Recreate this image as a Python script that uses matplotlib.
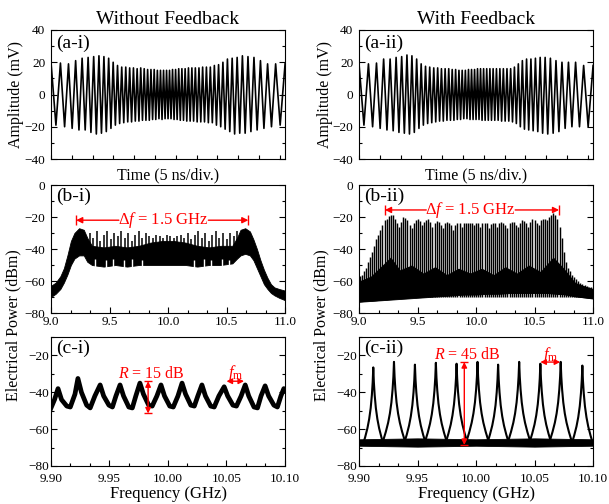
import numpy as np
import matplotlib.pyplot as plt
from matplotlib.ticker import MultipleLocator

plt.rcParams['font.family'] = ['Liberation Serif', 'DejaVu Serif']
plt.rcParams['mathtext.fontset'] = 'custom'
plt.rcParams['mathtext.rm'] = 'Liberation Serif'
plt.rcParams['mathtext.it'] = 'Liberation Serif:italic'
plt.rcParams['axes.linewidth'] = 0.8

# (a) time traces: extrema of the chirped beat signal, time in divisions
wave_t = [0.000, 0.237, 0.454, 0.654, 0.841, 1.017, 1.184, 1.344, 1.496, 1.643,
          1.784, 1.920, 2.052, 2.180, 2.305, 2.426, 2.544, 2.659, 2.772, 2.882,
          2.989, 3.095, 3.198, 3.300, 3.400, 3.498, 3.594, 3.689, 3.782, 3.874,
          3.964, 4.053, 4.141, 4.228, 4.314, 4.398, 4.481, 4.564, 4.645, 4.726,
          4.805, 4.884, 4.961, 5.038, 5.114, 5.190, 5.264, 5.338, 5.411, 5.484,
          5.556, 5.627, 5.698, 5.770, 5.843, 5.916, 5.990, 6.064, 6.140, 6.216,
          6.293, 6.370, 6.449, 6.528, 6.609, 6.690, 6.773, 6.856, 6.940, 7.026,
          7.113, 7.201, 7.290, 7.380, 7.472, 7.565, 7.660, 7.756, 7.854, 7.954,
          8.056, 8.159, 8.265, 8.372, 8.482, 8.595, 8.710, 8.828, 8.949, 9.074,
          9.202, 9.334, 9.470, 9.611, 9.758, 9.910, 10.070, 10.237, 10.413, 10.600,
          10.800, 11.017, 11.254]
wave_ai = [20, -19, 19.5, -20, 19, -21, 21, -22, 22.5, -22,
           23, -23.5, 23.5, -24.5, 24, -24, 23.5, -23, 22.5, -21,
           20, -19, 18, -18, 17, -17.5, 17, -17, 16.5, -17,
           16.5, -16.5, 16, -16.5, 16.5, -16, 16, -16, 15.5, -16,
           15.5, -15.5, 15.5, -15.5, 15, -15, 15, -15.5, 15, -15,
           15, -15, 15, -15, 15.5, -15.5, 15.5, -15.5, 16, -16,
           16, -16, 16, -16.5, 16.5, -16.5, 16.5, -16.5, 16.5, -17,
           16.5, -17, 17, -17, 17, -17.5, 17, -17.5, 18, -19,
           18.5, -20, 20, -21.5, 22, -23, 22.5, -24.5, 23, -24,
           24, -24, 23.5, -23, 23, -22, 21, -21, 19, -20,
           19, -19, 19]
wave_aii = [19, -19, 19, -20, 19.5, -21, 22, -22, 22, -22.5,
            23, -23.5, 23.5, -24, 24.5, -24.5, 24, -23.5, 22, -21,
            19, -19, 17.5, -18, 17, -17.5, 16.5, -17, 16.5, -16.5,
            16, -16.5, 16, -16, 16, -16, 15.5, -16, 15.5, -15.5,
            15, -15.5, 15, -15, 15, -15, 15.5, -15.5, 15.5, -15.5,
            15.5, -15.5, 16, -15.5, 16, -16, 16, -16, 16, -16,
            16, -16, 16, -16, 16, -16, 16, -16.5, 16, -16.5,
            16, -16.5, 16, -17, 17, -18, 19, -20, 21, -21.5,
            22, -22, 22, -22.5, 22.5, -23, 23, -24, 23, -24.5,
            22.5, -24, 21, -23, 20, -21, 20, -20, 20, -20,
            18, -20, 18]

# (b-i) broadband spectrum without feedback: body of the trace and its spikes
bi_f = [9.00, 9.04, 9.08, 9.11, 9.14, 9.17, 9.20, 9.24, 9.28, 9.31,
        9.35, 9.45, 9.55, 9.65, 9.75, 9.85, 9.95, 10.05, 10.15, 10.25,
        10.35, 10.45, 10.55, 10.59, 10.62, 10.66, 10.70, 10.73, 10.76, 10.79,
        10.82, 10.85, 10.88, 10.91, 10.95, 11.00]
bi_hi = [-63, -61, -57, -52, -44, -35, -30, -27, -28, -33,
         -38, -39, -38, -39, -38, -36, -35, -35, -36, -38,
         -39, -38, -38, -33, -28, -27, -29, -34, -40, -47,
         -53, -58, -62, -64, -65, -66]
bi_lo = [-70, -68, -65, -61, -56, -50, -46, -44, -44, -48,
         -50, -51, -50, -51, -50, -50, -50, -50, -50, -51,
         -50, -50, -49, -46, -44, -43, -44, -47, -52, -57,
         -62, -65, -67.5, -69, -70.5, -72]
spike_f = [9.33, 9.36, 9.39, 9.42, 9.45, 9.48, 9.51, 9.54, 9.57, 9.60,
           9.63, 9.66, 9.69, 9.72, 9.75, 9.78, 9.81, 9.84, 9.87, 9.90,
           9.93, 9.96, 9.99, 10.02, 10.05, 10.08, 10.11, 10.14, 10.17, 10.20,
           10.23, 10.26, 10.29, 10.32, 10.35, 10.38, 10.41, 10.44, 10.47, 10.50,
           10.53, 10.56, 10.59]
spike_top = [-30, -33, -29, -35, -31, -29, -34, -30, -32, -28.5,
             -33, -30, -35, -31, -29, -33, -30, -32, -33, -31,
             -32, -33, -31, -32, -33, -32, -31, -33, -30, -34,
             -31, -29, -33, -30, -35, -31, -29, -33, -30, -34,
             -30, -32, -29]
# lower edge notches of the body (white dips reaching up into the band)
notch_f = [9.38, 9.47, 9.53, 9.62, 9.69, 9.78, 10.22, 10.31, 10.37, 10.46, 10.52]
notch_top = [-46, -47, -46, -47, -46, -47, -47, -46, -47, -46, -47]

# (b-ii) comb spectrum with feedback
comb_start = 9.005   # GHz
comb_step = 0.0178   # GHz, line spacing f_m
comb_top = [-57, -56, -54, -52, -48, -45, -42, -38, -34, -31,
            -28, -25, -22, -21, -19.5, -18.5, -19, -21, -24, -26,
            -23, -20, -20.5, -22, -25, -27, -24, -22, -21, -22.5,
            -25, -23, -22, -21.5, -23, -26, -24, -22.5, -23, -25,
            -27, -24, -23, -23.5, -25, -28, -25, -23.5, -24, -26,
            -24, -23.5, -24, -23.5, -24, -25, -23.5, -24, -26, -24,
            -23.5, -24, -27, -24.5, -23.5, -24, -26, -24, -23, -23.5,
            -25, -27, -24, -23, -23, -25, -26, -23.5, -22, -22.5,
            -24, -26, -23, -21.5, -22, -24, -25, -22, -21, -21.5,
            -22, -20, -18.5, -17.5, -18.5, -21, -26, -33, -42, -48,
            -52, -54, -56, -57.5, -59, -60, -61, -62, -62.5, -63,
            -63.5, -64, -64.5]
bii_f = [9.00, 9.10, 9.20, 9.30, 9.40, 9.50, 9.60, 9.70, 9.80, 9.90, 10.00,
         10.10, 10.20, 10.30, 10.40, 10.50, 10.60, 10.70, 10.80, 10.90, 11.00]
bii_lo = [-73, -72.5, -72, -71.5, -71, -70.5, -70, -69.5, -69, -68.5, -68.5,
          -68, -68, -67.5, -67.5, -67.5, -67.5, -68, -68.5, -70, -71]
bii_hi = [-61, -59, -57, -56, -57, -58, -57, -58, -59, -58, -58,
          -59, -58, -57, -58, -57, -56, -57, -60, -63, -65]
# darker lower part of the comb (sidebands between lines)
bii_mid_f = [9.00, 9.10, 9.20, 9.27, 9.35, 9.45, 9.55, 9.65, 9.75, 9.85, 9.95,
             10.05, 10.15, 10.25, 10.35, 10.45, 10.55, 10.66, 10.75, 10.85, 11.00]
bii_mid_hi = [-60, -57, -50, -45, -53, -50, -55, -51, -56, -52, -55,
              -52, -56, -51, -55, -50, -54, -45, -52, -61, -65]

# (c-i) zoomed spectrum without feedback
ci_f = [9.900, 9.903,
        9.906, 9.909, 9.9135, 9.9165, 9.9205,
        9.923, 9.926, 9.9305, 9.9335, 9.9375,
        9.942, 9.945, 9.9495, 9.9525, 9.9555,
        9.959, 9.962, 9.9665, 9.9695, 9.9725,
        9.976, 9.979, 9.9835, 9.9865, 9.9905,
        9.994, 9.997, 10.0015, 10.0045, 10.0085,
        10.012, 10.015, 10.0195, 10.0225, 10.0255,
        10.029, 10.032, 10.0365, 10.0395, 10.0435,
        10.048, 10.051, 10.0555, 10.0585, 10.0625,
        10.066, 10.069, 10.0735, 10.0765, 10.0795,
        10.083, 10.086, 10.0905, 10.0935, 10.0965,
        10.099, 10.100]
ci_db = [-48.5, -44,
         -38, -44, -47.5, -48, -41,
         -32.5, -40, -47, -48.5, -42,
         -36, -42, -47, -48, -42,
         -36, -42, -48, -48.5, -42,
         -35, -41, -47, -47.5, -42,
         -36, -42, -47.5, -48, -42,
         -35, -41, -47, -47.5, -42,
         -36, -42, -47.5, -48, -42,
         -37, -42, -47, -47.5, -42,
         -36, -42, -48, -48.5, -42,
         -36.5, -42, -47, -48, -42,
         -38, -39]

# (c-ii) zoomed comb with feedback
cii_peak_f = [9.9122, 9.9299, 9.9478, 9.9657, 9.9834, 10.0013,
              10.0189, 10.0369, 10.0550, 10.0724, 10.0909]
cii_peak_db = [-26.5, -23.5, -25, -24, -24.5, -23.5, -25, -23.5, -24.5, -23.5, -25.5]
skirt_df = [-0.0089, -0.007, -0.005, -0.0035, -0.0022, -0.0012, -0.0005, 0,
            0.0005, 0.0012, 0.0022, 0.0035, 0.005, 0.007, 0.0089]
skirt_rel = [-42, -38, -33, -28, -22, -15, -8, 0, -8, -15, -22, -28, -33, -38, -42]
cii_floor_f = [9.90, 9.95, 10.00, 10.05, 10.10]
cii_floor_lo = [-69, -69.5, -69, -69.5, -69]
cii_floor_hi = [-65.5, -65, -65.5, -65, -65.5]

RED = '#ff0000'
FW, FH = 609, 504

fig = plt.figure(figsize=(FW / 100, FH / 100), dpi=100)


def axes_px(left, top, right, bottom):
    return fig.add_axes([left / FW, 1 - bottom / FH, (right - left) / FW, (bottom - top) / FH])


def style(ax, ypad=4, xpad=3):
    ax.tick_params(which='both', direction='in', right=True, top=False,
                   labelsize=9.5, width=0.8)
    ax.tick_params(which='major', length=4)
    ax.tick_params(which='minor', length=2.5)
    ax.tick_params(axis='y', pad=ypad)
    ax.tick_params(axis='x', pad=xpad)


ax_ai = axes_px(51, 30, 285, 159)
ax_aii = axes_px(359, 30, 593, 159)
ax_bi = axes_px(51, 185, 285, 313)
ax_bii = axes_px(359, 185, 593, 313)
ax_ci = axes_px(51, 337, 285, 466)
ax_cii = axes_px(359, 337, 593, 466)

# (a) panels
for ax, vals, title, lab in [(ax_ai, wave_ai, 'Without Feedback', '(a-i)'),
                             (ax_aii, wave_aii, 'With Feedback', '(a-ii)')]:
    ax.plot(wave_t, vals, color='black', lw=1.2)
    ax.set_xlim(0, 11.25)
    ax.set_ylim(-40, 40)
    ax.xaxis.set_major_locator(MultipleLocator(1))
    ax.yaxis.set_major_locator(MultipleLocator(20))
    ax.yaxis.set_minor_locator(MultipleLocator(10))
    ax.set_xticklabels([])
    style(ax)
    ax.tick_params(axis='x', which='major', length=3)
    ax.set_title(title, fontsize=14, pad=4)
    ax.set_xlabel('Time (5 ns/div.)', fontsize=11.5, labelpad=3)
    ax.text(0.02, 0.965, lab, transform=ax.transAxes, fontsize=14, va='top', ha='left')

# (b-i)
ax_bi.fill_between(bi_f, bi_lo, bi_hi, color='black', lw=0.6)
ax_bi.vlines(spike_f, -42, spike_top, color='black', lw=1.1)
ax_bi.vlines(notch_f, -53, notch_top, color='white', lw=1.0)
# (b-ii)
comb_f = comb_start + comb_step * np.arange(len(comb_top))
ax_bii.fill_between(bii_f, bii_lo, bii_hi, color='black', lw=0.6)
ax_bii.fill_between(bii_mid_f, bii_lo, bii_mid_hi, color='black', lw=0)
ax_bii.vlines(comb_f, -70, comb_top, color='black', lw=1.05)

for ax, lab in [(ax_bi, '(b-i)'), (ax_bii, '(b-ii)')]:
    ax.set_xlim(9.0, 11.0)
    ax.set_ylim(-80, 0)
    ax.xaxis.set_major_locator(MultipleLocator(0.5))
    ax.xaxis.set_minor_locator(MultipleLocator(0.5 / 3))
    ax.yaxis.set_major_locator(MultipleLocator(20))
    ax.yaxis.set_minor_locator(MultipleLocator(10))
    ax.xaxis.set_major_formatter('{x:.1f}')
    style(ax, ypad=4, xpad=2.5)
    ax.text(0.02, 0.98, lab, transform=ax.transAxes, fontsize=14, va='top', ha='left')

# delta-f annotations
for ax, x0, x1, t0, t1, xc, y in [(ax_bi, 9.215, 10.687, 9.58, 10.345, 9.962, -22),
                                  (ax_bii, 9.222, 10.71, 9.575, 10.335, 9.955, -15.6)]:
    ax.annotate('', xy=(x0, y), xytext=(t0, y),
                arrowprops=dict(arrowstyle='-|>', color=RED, lw=1, mutation_scale=9,
                                shrinkA=0, shrinkB=0))
    ax.annotate('', xy=(x1, y), xytext=(t1, y),
                arrowprops=dict(arrowstyle='-|>', color=RED, lw=1, mutation_scale=9,
                                shrinkA=0, shrinkB=0))
    ax.vlines([x0, x1], y - 3, y + 3, color=RED, lw=1)
    ax.text(xc, y, 'Δ$f$ = 1.5 GHz', color=RED, fontsize=12, ha='center', va='center')

# (c-i)
ax_ci.plot(ci_f, ci_db, color='black', lw=3.4)
# (c-ii)
ax_cii.fill_between(cii_floor_f, cii_floor_lo, cii_floor_hi, color='black', lw=0.6)
for pf, pdb in zip(cii_peak_f, cii_peak_db):
    ax_cii.plot([pf + d for d in skirt_df], [pdb + r for r in skirt_rel],
                color='black', lw=1.5)

for ax, lab in [(ax_ci, '(c-i)'), (ax_cii, '(c-ii)')]:
    ax.set_xlim(9.90, 10.10)
    ax.set_ylim(-80, -10)
    ax.xaxis.set_major_locator(MultipleLocator(0.05))
    ax.xaxis.set_minor_locator(MultipleLocator(0.05 / 3))
    ax.yaxis.set_major_locator(MultipleLocator(20))
    ax.yaxis.set_minor_locator(MultipleLocator(10))
    ax.xaxis.set_major_formatter('{x:.2f}')
    style(ax, ypad=1.5, xpad=5)
    ax.set_xlabel('Frequency (GHz)', fontsize=12, labelpad=1)
    ax.text(0.02, 0.98, lab, transform=ax.transAxes, fontsize=14, va='top', ha='left')

# R annotations
for ax, x, ytop, ybot, txt, tx, ty in [(ax_ci, 9.983, -34, -51.5, '$R$ = 15 dB', 9.986, -30),
                                       (ax_cii, 9.990, -23.6, -68.6, '$R$ = 45 dB', 9.9925, -20)]:
    ax.annotate('', xy=(x, ytop), xytext=(x, ybot),
                arrowprops=dict(arrowstyle='<|-|>', color=RED, lw=1, mutation_scale=8,
                                shrinkA=0, shrinkB=0))
    ax.hlines([ytop, ybot], x - 0.0035, x + 0.0035, color=RED, lw=1)
    ax.text(tx, ty, txt, color=RED, fontsize=11.5, ha='center', va='center')

# f_m annotations
for ax, x0, x1, y, tx, ty in [(ax_ci, 10.050, 10.065, -34, 10.0576, -29.5),
                              (ax_cii, 10.055, 10.072, -23.6, 10.0635, -19.5)]:
    ax.annotate('', xy=(x1, y), xytext=(x0, y),
                arrowprops=dict(arrowstyle='<|-|>', color=RED, lw=1, mutation_scale=8,
                                shrinkA=0, shrinkB=0))
    ax.text(tx, ty, r'$f_{\mathrm{m}}$', color=RED, fontsize=12, ha='center', va='center')

# shared y labels
fig.text(16 / FW, 1 - 94 / FH, 'Amplitude (mV)', rotation=90, fontsize=11.5,
         ha='center', va='center')
fig.text(325 / FW, 1 - 94 / FH, 'Amplitude (mV)', rotation=90, fontsize=11.5,
         ha='center', va='center')
fig.text(13 / FW, 1 - 325 / FH, 'Electrical Power (dBm)', rotation=90, fontsize=11.5,
         ha='center', va='center')
fig.text(321 / FW, 1 - 325 / FH, 'Electrical Power (dBm)', rotation=90, fontsize=11.5,
         ha='center', va='center')

fig.savefig('out.png', dpi=100)
